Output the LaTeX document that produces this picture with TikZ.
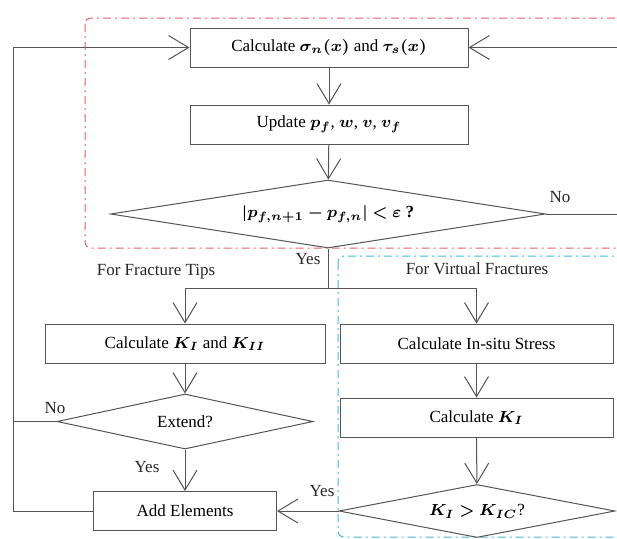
\documentclass[tikz,border=0pt]{standalone}
\usepackage{fontspec}
\setmainfont{Liberation Serif}
\usepackage{amsmath}
\usepackage{bm}
\usetikzlibrary{arrows.meta,shapes.geometric}
\definecolor{linegray}{RGB}{85,85,85}
\definecolor{zonered}{RGB}{228,96,110}
\definecolor{zonecyan}{RGB}{70,185,215}
\tikzset{
  box/.style={draw=linegray, line width=0.5pt, rectangle, minimum height=19.5pt, inner sep=1pt},
  decision/.style={draw=linegray, line width=0.5pt, diamond, aspect=5, inner sep=0pt},
  arr/.style={draw=linegray, line width=0.5pt, -{Straight Barb[length=10pt,width=12pt,line width=0.5pt]}},
  link/.style={draw=linegray, line width=0.5pt},
  zone/.style={line width=0.5pt, rounded corners=3pt, dash pattern=on 4pt off 2pt on 1pt off 2pt},
  note/.style={inner sep=0pt, text=black!85}
}
\begin{document}
\begin{tikzpicture}[x=0.5pt,y=-0.5pt,font=\fontsize{8.5}{10}\selectfont]
  \useasboundingbox (0,0) rectangle (617,538);
  % regions
  \draw[zone, draw=zonered] (85,18) rectangle (640,248);
  \draw[zone, draw=zonecyan] (338,256) rectangle (640,537);
  % main loop
  \node[box, minimum width=139pt] (calcsig) at (329,47.5) {Calculate $\bm{\sigma_n(x)}$ and $\bm{\tau_s(x)}$};
  \node[box, minimum width=139pt] (upd) at (329,124.5) {Update $\bm{p_f}$, $\bm{w}$, $\bm{v}$, $\bm{v_f}$};
  \node[decision, minimum width=217.5pt, minimum height=34pt] (conv) at (328,214) {$\bm{\lvert p_{f,n+1}-p_{f,n}\rvert < \varepsilon}$ \textbf{?}};
  % fracture tips
  \node[box, minimum width=140pt] (kcalc) at (185,343.5) {Calculate $\bm{K_I}$ and $\bm{K_{II}}$};
  \node[decision, minimum width=128pt, minimum height=27.5pt] (ext) at (185,421.5) {Extend?};
  \node[box, minimum width=91.5pt] (add) at (185,511) {Add Elements};
  % virtual fractures
  \node[box, minimum width=136.5pt] (stress) at (476.5,343.5) {Calculate In-situ Stress};
  \node[box, minimum width=136.5pt] (kone) at (476.5,417.5) {Calculate $\bm{K_I}$};
  \node[decision, minimum width=138pt, minimum height=26.5pt] (kcheck) at (477,511) {$\bm{K_I > K_{IC}}$?};
  % connectors
  \draw[arr] (calcsig) -- (upd);
  \draw[arr] (upd) -- (conv);
  \draw[arr] (conv.east) -- ++(73,0) |- (calcsig.east);
  \draw[link] (conv.south) -- ++(0,40) coordinate (split);
  \draw[arr] (split) -| (kcalc.north);
  \draw[arr] (split) -| (stress.north);
  \draw[arr] (kcalc) -- (ext);
  \draw[arr] (ext) -- (add);
  \draw[link] (ext.west) -- ++(-44,0);
  \draw[arr] (add.west) -- ++(-80,0) |- (calcsig.west);
  \draw[arr] (stress) -- (kone);
  \draw[arr] (kone) -- (kcheck);
  \draw[arr] (kcheck.west) -- (add.east);
  % labels
  \node[note] (noconv) at (560,197) {No};
  \node[note] (yesconv) at (308,259) {Yes};
  \node[note] (noext) at (55,408) {No};
  \node[note] (yesext) at (147,467) {Yes};
  \node[note] (yesk) at (322,491) {Yes};
  \node[note] (tips) at (156,272) {For Fracture Tips};
  \node[note] (virt) at (477,269) {For Virtual Fractures};
\end{tikzpicture}
\end{document}
